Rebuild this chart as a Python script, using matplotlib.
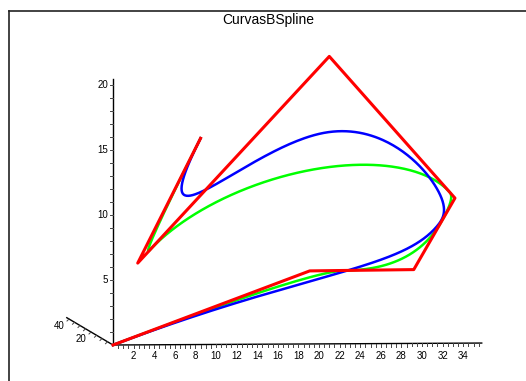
import numpy as np
import matplotlib
matplotlib.use("Agg")
import matplotlib.pyplot as plt

plt.rcParams['font.family'] = ['Liberation Sans', 'DejaVu Sans']

# control polygon (x, z) as seen in the projection
ctrl_x = [8.5, 2.4, 21.0, 33.2, 29.2, 19.1, 0.0]
ctrl_z = [15.9, 6.3, 22.2, 11.3, 5.8, 5.7, 0.0]

# blue: cubic B-spline, clamped, interior knots
blue_degree = 3
blue_knots = [0.2, 0.36, 0.44]
# green: quadratic rational B-spline
green_degree = 2
green_knots = [0.08, 0.691, 0.767, 0.92]
green_weights = [1, 0.7, 0.35, 1, 1, 1, 1]

x_ticks = [2, 4, 6, 8, 10, 12, 14, 16, 18, 20, 22, 24, 26, 28, 30, 32, 34]
z_ticks = [5, 10, 15, 20]
depth_ticks = [20, 40]


def basis(knots, p, u):
    k = len(knots)
    N = np.zeros((len(u), k - 1))
    for i in range(k - 1):
        N[:, i] = (knots[i] <= u) & (u < knots[i + 1])
    for d in range(1, p + 1):
        M = np.zeros((len(u), k - d - 1))
        for i in range(k - d - 1):
            den1 = knots[i + d] - knots[i]
            den2 = knots[i + d + 1] - knots[i + 1]
            if den1 > 0:
                M[:, i] += (u - knots[i]) / den1 * N[:, i]
            if den2 > 0:
                M[:, i] += (knots[i + d + 1] - u) / den2 * N[:, i + 1]
        N = M
    return N


def curve(p, inner, weights=None, n=500):
    pts = np.column_stack([ctrl_x, ctrl_z])
    knots = np.concatenate([[0] * (p + 1), inner, [1] * (p + 1)])
    u = np.linspace(0, 1 - 1e-9, n)
    N = basis(knots, p, u)
    if weights is not None:
        N = N * np.asarray(weights, float)
    C = (N @ pts) / N.sum(1, keepdims=True)
    return C[:, 0], C[:, 1]


fig = plt.figure(figsize=(5.26, 3.81), dpi=100)
ax = fig.add_axes([0, 0, 1, 1])
ax.axis('off')
ax.set_xlim(-113 / 10.3, 413 / 10.3)
ax.set_ylim(-36 / 13, 345 / 13)

px_x = 1 / 10.3  # one pixel in x data units
px_z = 1 / 13.0  # one pixel in z data units

# x axis
ax.plot([0, 35.8], [0, 0.15], color='black', lw=1.0)
for v in np.arange(0.5, 36, 0.5):
    ax.plot([v, v], [v * 0.004, v * 0.004 - 3 * px_z], color='#444444', lw=0.7)
for v in x_ticks:
    ax.text(v, -6 * px_z, str(v), ha='center', va='top', fontsize=7)

# z axis
ax.plot([0, 0], [0, 20.5], color='black', lw=1.0)
for v in range(1, 21):
    ax.plot([0, -3 * px_x], [v, v], color='#444444', lw=0.7)
for v in z_ticks:
    ax.text(-5 * px_x, v, str(v), ha='right', va='center', fontsize=7)

# depth axis (oblique)
dx, dz = -0.1068, 0.05
ax.plot([0, 42 * dx], [0, 42 * dz], color='black', lw=1.0)
for v in range(5, 45, 5):
    ax.plot([v * dx, v * dx - 2 * px_x], [v * dz, v * dz - 2 * px_z], color='#444444', lw=0.7)
for v in depth_ticks:
    ax.text(v * dx - 10 * px_x, v * dz - 7 * px_z, str(v), ha='center', va='center', fontsize=7)

gx, gz = curve(green_degree, green_knots, green_weights)
ax.plot(gx, gz, color='#00ff00', lw=1.8)
bx, bz = curve(blue_degree, blue_knots)
ax.plot(bx, bz, color='#0000ff', lw=1.8)
ax.plot(ctrl_x, ctrl_z, color='#ff0000', lw=2.2)

# window frame
fig.add_artist(plt.Line2D([9 / 526, 1], [1 - 11 / 381] * 2, color='#222222', lw=1.2))
fig.add_artist(plt.Line2D([9 / 526] * 2, [0, 1 - 11 / 381], color='#222222', lw=1.2))
fig.text(268 / 526, 1 - 20 / 381, 'CurvasBSpline', ha='center', va='center', fontsize=10)

fig.savefig('out.png', dpi=100)
